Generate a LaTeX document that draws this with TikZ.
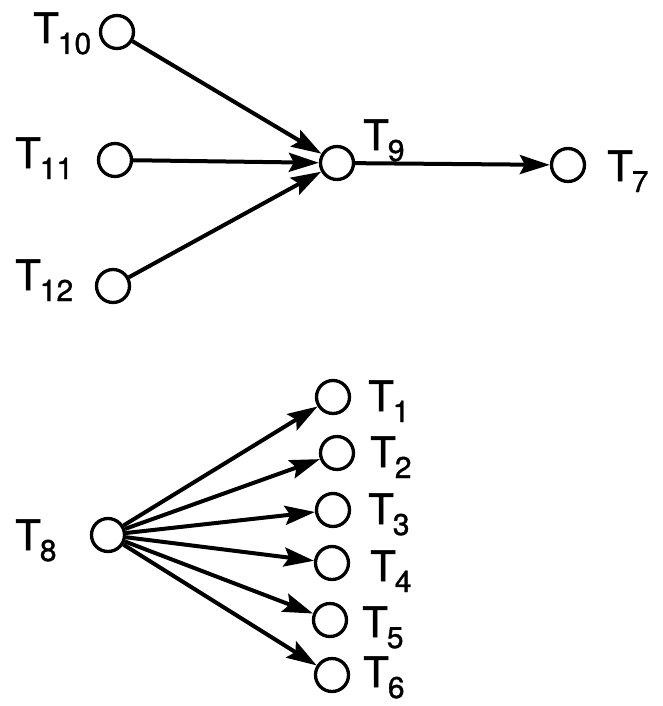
\documentclass[tikz,border=0pt]{standalone}
\usepackage{fontspec}
\setmainfont{TeX Gyre Heros}
\newfontface\labfont{TeX Gyre Heros}[FakeBold=1.2]
\usetikzlibrary{arrows.meta}
\newcommand{\tlab}[1]{{\labfont\fontsize{42}{42}\selectfont T}\kern-1pt\raisebox{-11pt}{\labfont\fontsize{30}{30}\selectfont #1}}
\tikzset{
  st/.style={circle,draw,line width=3.3pt,minimum size=33pt,inner sep=0pt},
  lab/.style={anchor=base west,inner sep=0pt},
  arr/.style={line width=4pt,-{Stealth[length=30pt,width=19pt,inset=5pt]}},
  ln/.style={line width=4pt}
}
\begin{document}
\begin{tikzpicture}[x=1pt,y=-1pt]
\useasboundingbox (0,0) rectangle (662,706);
% nodes
\node[st] (t10) at (117,32) {};
\node[st] (t11) at (115,160) {};
\node[st] (t12) at (113,286) {};
\node[st] (t9) at (337,163) {};
\node[st] (t7) at (568,165) {};
\node[st] (t8) at (108,535) {};
\node[st] (t1) at (333,397) {};
\node[st] (t2) at (337,453) {};
\node[st] (t3) at (333,510) {};
\node[st] (t4) at (332,563) {};
\node[st] (t5) at (330,620) {};
\node[st] (t6) at (332,675) {};
% labels
\node[lab] (l10) at (33,43) {\tlab{10}};
\node[lab] (l11) at (15,168) {\tlab{11}};
\node[lab] (l12) at (15,290) {\tlab{12}};
\node[lab] (l9) at (363,150) {\tlab{9}};
\node[lab] (l7) at (607,181) {\tlab{7}};
\node[lab] (l8) at (15,550) {\tlab{8}};
\node[lab] (l1) at (368,411) {\tlab{1}};
\node[lab] (l2) at (370,467) {\tlab{2}};
\node[lab] (l3) at (368,524) {\tlab{3}};
\node[lab] (l4) at (370,581) {\tlab{4}};
\node[lab] (l5) at (362,637) {\tlab{5}};
\node[lab] (l6) at (363,687) {\tlab{6}};
% edges
\draw[arr] (t10) -- (t9);
\draw[arr] (t11) -- (t9);
\draw[arr] (t12) -- (t9);
\draw[arr] (t9) -- (t7);
\foreach \t in {t1,t2,t3,t4,t5,t6} \draw[arr] (t8) -- (\t);
\end{tikzpicture}
\end{document}
